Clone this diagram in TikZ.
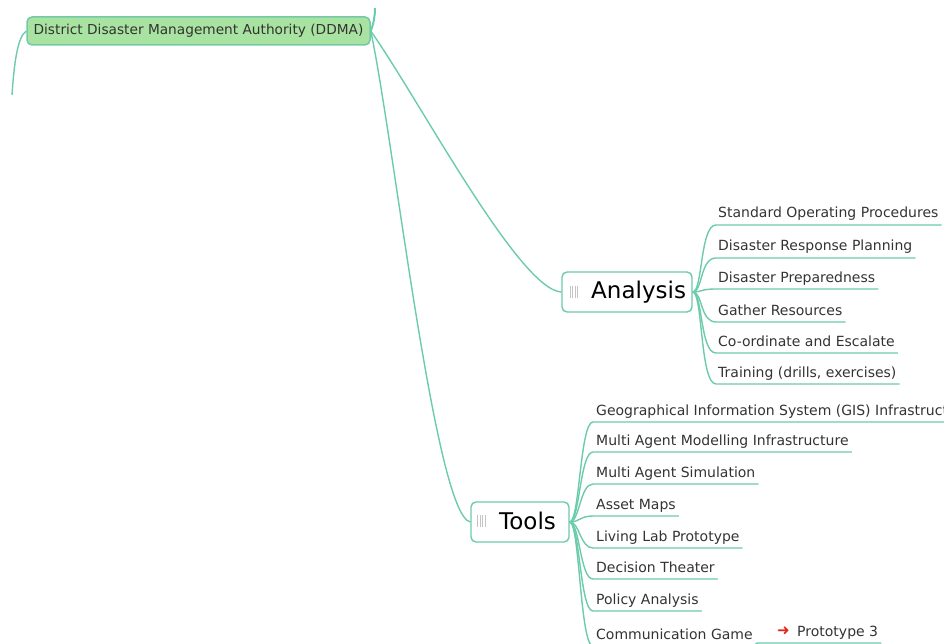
\documentclass[tikz,border=0pt]{standalone}
\usepackage{fontspec}
\setmainfont{DejaVu Sans}
\usetikzlibrary{calc}
\definecolor{link}{HTML}{6CCBAD}
\definecolor{ddmafill}{HTML}{A9E3A1}
\definecolor{ddmaedge}{HTML}{74C9A6}
\definecolor{ink}{HTML}{333333}
\definecolor{iconc}{HTML}{C4C4C4}
\definecolor{flag}{HTML}{E0261E}
\begin{document}
\begin{tikzpicture}[x=1pt,y=-1pt,
  link/.style={draw=link, line width=1.4pt},
  topicbox/.style={draw=link, line width=1.4pt, rounded corners=5pt, fill=white,
    minimum height=40pt, inner sep=0pt},
  topiclabel/.style={anchor=base west, inner sep=0pt, text=black,
    font=\fontsize{23}{26}\selectfont},
  leaf/.style={anchor=base west, inner sep=0pt, text=ink,
    font=\fontsize{14}{16}\selectfont},
  icon/.style={draw=iconc, line width=1pt},
]
\useasboundingbox (0,0) rectangle (944,644);
\clip (0,0) rectangle (944,644);

% central topic
\node[draw=ddmaedge, fill=ddmafill, rounded corners=5pt, line width=1.5pt,
      minimum width=343pt, minimum height=28pt, inner sep=0pt, text=ink,
      font=\fontsize{13.7}{16}\selectfont] (ddma) at (198.5,31)
      {District Disaster Management Authority (DDMA)};
\coordinate (offleft) at (12,95);
\coordinate (offtop) at (375,8);
\draw[link] (ddma.west) .. controls +(-9,6) and +(2,-30) .. (offleft);
\draw[link, line width=2pt] (ddma.east) .. controls +(3,-8) and +(0,8) .. (offtop);

% main topics
\node[topicbox, minimum width=130pt] (analysis) at (627,292) {};
\node[topiclabel] (analysislabel) at (591,298) {Analysis};
\node[topicbox, minimum width=98pt] (tools) at (520,522) {};
\node[topiclabel] (toolslabel) at (499,529) {Tools};

% topic icons
\foreach \dx in {0,2.6,5.2,7.8} {
  \draw[icon] (570+\dx,286) -- (570+\dx,298);
  \draw[icon] (477.5+\dx,515) -- (477.5+\dx,527);
}

\draw[link] (ddma.east) .. controls +(48,68) and +(-42,-2) .. (analysis.west);
\draw[link] (ddma.east) .. controls +(23,108) and +(-35,-7) .. (tools.west);

% subtopics of Analysis
\foreach \i/\yb/\txt in {1/218/Standard Operating Procedures,
                          2/251/Disaster Response Planning,
                          3/282/Disaster Preparedness,
                          4/315/Gather Resources,
                          5/346/Co-ordinate and Escalate,
                          6/377/{Training (drills, exercises)}} {
  \node[leaf] (a\i) at (718,\yb) {\txt};
  \draw[link] (analysis.east) .. controls +(10,0) and +(-16,0)
     .. ($(a\i.base west)+(-2,7)$) -- ($(a\i.base east)+(3,7)$);
}

% subtopics of Tools
\foreach \i/\yb/\txt in {1/415/Geographical Information System (GIS) Infrastructure,
                          2/445/Multi Agent Modelling Infrastructure,
                          3/477/Multi Agent Simulation,
                          4/509/Asset Maps,
                          5/541/Living Lab Prototype,
                          6/572/Decision Theater,
                          7/604/Policy Analysis,
                          8/639/Communication Game} {
  \node[leaf] (t\i) at (596,\yb) {\txt};
  \draw[link] (tools.east) .. controls +(10,0) and +(-13,0)
     .. ($(t\i.base west)+(-3,7)$) -- ($(t\i.base east)+(3,7)$);
}

% follow-up of Communication Game
\node[leaf, text=flag, font=\fontsize{15}{17}\selectfont] (p3arrow) at (777,635) {➜};
\node[leaf] (p3) at (797,636) {Prototype 3};
\coordinate (p3start) at ($(p3arrow.base west)+(-19,8)$);
\draw[link] ($(t8.base east)+(3,7)$) .. controls +(5,0) and +(-5,0)
   .. (p3start) -- ($(p3.base east)+(3,7)$);
\end{tikzpicture}
\end{document}
